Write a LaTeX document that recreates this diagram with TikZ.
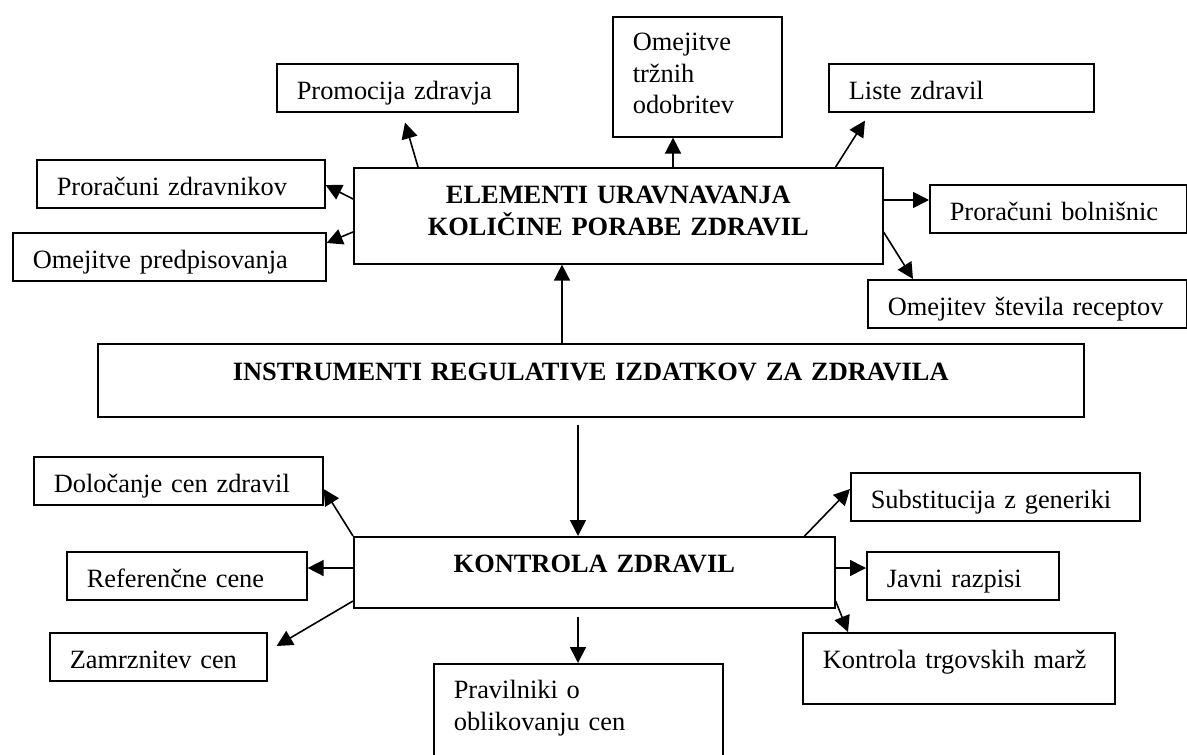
\documentclass[tikz,border=0pt]{standalone}
\usepackage{fontspec}
\setmainfont{Liberation Serif}
\usetikzlibrary{calc,arrows.meta}
\tikzset{BOX/.style={rectangle,draw,line width=0.8pt,anchor=north west,align=left,inner xsep=10pt,inner ysep=4pt,minimum height=24pt,text height=12pt,text depth=0pt,font=\fontsize{13.2}{15.8}\selectfont}}
\tikzset{TALLBOX/.style={BOX,minimum height=60pt,text height=9pt}}
\tikzset{MAIN/.style={BOX,align=center,text height=8pt,text depth=8pt,font=\fontsize{13.2}{16}\selectfont\bfseries}}
\tikzset{ARROW/.style={line width=0.8pt,-{Triangle[length=8pt,width=8pt]}}}

\begin{document}
\begin{tikzpicture}[x=0.5pt,y=-0.5pt]
\useasboundingbox (0,0) rectangle (1187,754);

% upper part
\node[MAIN, text width=244.5pt, minimum height=48pt, text height=9pt, text depth=21pt] (n_elementi) at (353,167) {ELEMENTI URAVNAVANJA\\KOLIČINE PORABE ZDRAVIL};
\node[BOX, text width=100.5pt] (n_promo) at (276,63) {Promocija zdravja};
\node[TALLBOX, text width=64.5pt, text depth=35pt] (n_trzne) at (612,16) {Omejitve\\tržnih\\odobritev};
\node[BOX, text width=112.5pt] (n_liste) at (828,63) {Liste zdravil};
\node[BOX, text width=124pt] (n_prorzdr) at (36,159) {Proračuni zdravnikov};
\node[BOX, text width=136.5pt] (n_omejpred) at (12,232) {Omejitve predpisovanja};
\node[BOX, text width=108.5pt] (n_prorbol) at (929,184) {Proračuni bolnišnic};
\node[BOX, text width=139.5pt] (n_omejrec) at (867,279) {Omejitev števila receptov};

\coordinate (c_promo) at ($(n_elementi.north west)+(65,0)$);
\draw[ARROW] (c_promo) -- ($(n_promo.south west)+(129,10)$);
\coordinate (c_trzne) at ($(n_elementi.north west)+(320,0)$);
\draw[ARROW] (c_trzne) -- (c_trzne|-n_trzne.south);
\coordinate (c_liste) at ($(n_elementi.north east)+(-48,0)$);
\draw[ARROW] (c_liste) -- ($(n_liste.south west)+(37,8)$);
\coordinate (c_prorzdr) at ($(n_elementi.north west)+(0,32)$);
\draw[ARROW] (c_prorzdr) -- ($(n_prorzdr.north east)+(0,26)$);
\coordinate (c_omejpred) at ($(n_elementi.north west)+(0,65)$);
\draw[ARROW] (c_omejpred) -- ($(n_omejpred.north east)+(0,11)$);
\coordinate (c_prorbol) at ($(n_elementi.north east)+(0,33)$);
\draw[ARROW] (c_prorbol) -- (c_prorbol-|n_prorbol.west);
\coordinate (c_omejrec) at ($(n_elementi.north east)+(0,65)$);
\draw[ARROW] (c_omejrec) -- ($(n_omejrec.north west)+(46,0)$);

% middle
\node[MAIN, text width=473pt, minimum height=36.5pt] (n_instr) at (97,343) {INSTRUMENTI REGULATIVE IZDATKOV ZA ZDRAVILA};
\node[MAIN, text width=220.5pt, minimum height=35.5pt] (n_kontrola) at (353,536) {KONTROLA ZDRAVIL};

\coordinate (c_up) at ($(n_instr.north west)+(465,0)$);
\draw[ARROW] (c_up) -- (c_up|-n_elementi.south);
\coordinate (c_down) at ($(n_instr.south west)+(481,7)$);
\draw[ARROW] (c_down) -- (c_down|-n_kontrola.north);

% lower part
\node[BOX, text width=124.5pt] (n_dolocanje) at (33,456) {Določanje cen zdravil};
\node[BOX, text width=100pt] (n_referencne) at (66,551) {Referenčne cene};
\node[BOX, text width=88.5pt] (n_zamrz) at (49,632) {Zamrznitev cen};
\node[TALLBOX, text width=124.5pt, text depth=34pt] (n_pravilniki) at (433,663) {Pravilniki o\\oblikovanju cen};
\node[BOX, text width=124.5pt] (n_subst) at (850,472) {Substitucija z generiki};
\node[BOX, text width=76pt] (n_javni) at (866,551) {Javni razpisi};
\node[BOX, text width=136pt, minimum height=35.5pt, text height=8pt, text depth=8pt] (n_marze) at (802,632) {Kontrola trgovskih marž};

\draw[ARROW] (n_kontrola.north west) -- ($(n_dolocanje.north east)+(0,33)$);
\coordinate (c_referencne) at ($(n_kontrola.north west)+(0,32)$);
\draw[ARROW] (c_referencne) -- (c_referencne-|n_referencne.east);
\coordinate (c_zamrz) at ($(n_kontrola.north west)+(0,65)$);
\draw[ARROW] (c_zamrz) -- ($(n_zamrz.north east)+(9,14)$);
\coordinate (c_pravilniki) at ($(n_kontrola.south west)+(225,8)$);
\draw[ARROW] (c_pravilniki) -- (c_pravilniki|-n_pravilniki.north);
\coordinate (c_subst) at ($(n_kontrola.north east)+(-31,0)$);
\draw[ARROW] (c_subst) -- ($(n_subst.north west)+(0,17)$);
\coordinate (c_javni) at ($(n_kontrola.north east)+(0,32)$);
\draw[ARROW] (c_javni) -- (c_javni-|n_javni.west);
\coordinate (c_marze) at ($(n_kontrola.north east)+(0,65)$);
\draw[ARROW] (c_marze) -- ($(n_marze.north west)+(46,0)$);

\end{tikzpicture}
\end{document}
